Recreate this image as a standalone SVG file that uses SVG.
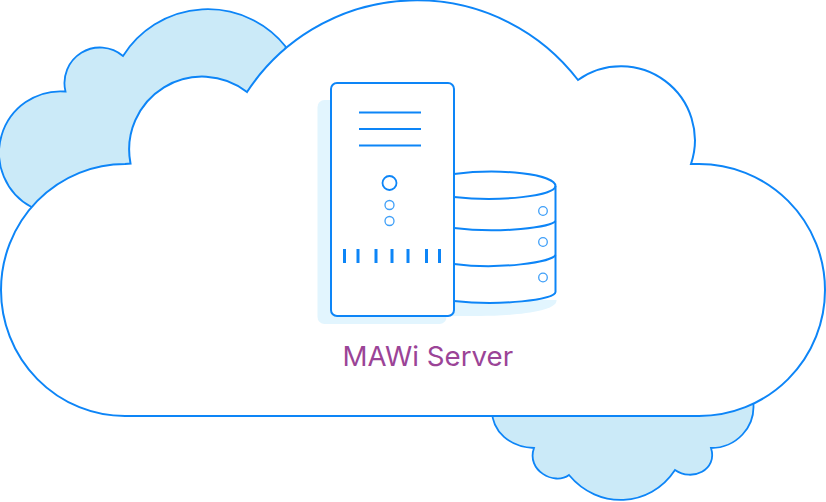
<svg xmlns="http://www.w3.org/2000/svg" width="826" height="502" viewBox="0 0 826 502">
<style>
.line{fill:none;stroke:#0d85f7;stroke-width:2;stroke-linejoin:miter}
.thin{fill:#fff;stroke:#3f9ff8;stroke-width:1.300}
.back{fill:#cbeaf8;stroke:#0d85f7;stroke-width:1.800}
.shadow{fill:#e2f5fe}
.tick{stroke:#0d85f7;stroke-width:3}
.rule{stroke:#0d85f7;stroke-width:2}
text{font-family:"Inter","Noto Sans",sans-serif;font-size:27.700px;fill:#9b4497}
</style>
<rect width="826" height="502" fill="#fff"/>
<g id="back-cloud-top">
<path class="back" d="M31.500 207A61.500 61.500 0 0 1 65.500 91.500A35.500 35.500 0 0 1 123 56A100 100 0 0 1 286 47L250 110L130 170Z"/>
</g>
<g id="back-cloud-bottom">
<path class="back" d="M492 410C492 432 510 447 534 448C526 470 554 486 569 475C598 510 650 508 675 470C692 482 718 470 711 448C735 448 757 428 753 400Z"/>
</g>
<g id="main-cloud">
<path d="M247 92A203 203 0 0 1 578 80A74 74 0 0 1 691 164H699A126 126 0 0 1 699 416H125A124 126 0 0 1 125 164L130.500 163.500A73 73 0 0 1 247 92Z" fill="#fff" stroke="#0d85f7" stroke-width="2"/>
</g>
<g id="database">
<path class="shadow" d="M450 300H556.500V300C558 312 510 316 480 316H450Z"/>
<path d="M454 174C500 168 555 174 555.500 186V292C555 300 500 306 454 301Z" fill="#fff"/>
<path class="line" d="M454 174C500 168 555 174 555.500 186C555 196 500 202 454 197"/>
<path class="line" d="M555.500 186V292C555 300 500 306 454 301"/>
<path class="line" d="M555.500 221C552 227 500 234 454 228"/>
<path class="line" d="M555.500 255C552 262 500 270 454 264"/>
<circle class="thin" cx="543" cy="211" r="4.300"/>
<circle class="thin" cx="543" cy="242" r="4.300"/>
<circle class="thin" cx="543" cy="277.500" r="4.300"/>
</g>
<g id="server">
<rect class="shadow" x="317.500" y="100" width="129" height="224" rx="7"/>
<rect x="331" y="83" width="123" height="233" rx="6" fill="#fff" stroke="#0d85f7" stroke-width="2"/>
<path class="rule" d="M359 112.500H421M359 129H421M359 145.500H421"/>
<circle cx="389.500" cy="183" r="7" fill="#fff" stroke="#0d85f7" stroke-width="1.800"/>
<circle class="thin" cx="389.500" cy="205" r="4.500"/>
<circle class="thin" cx="389.500" cy="221" r="4.500"/>
<path class="tick" d="M344.500 249V263M358 249V263M376 249V263M392 249V263M408 249V263M426.500 249V263M439.500 249V263"/>
</g>
<g id="label">
<text x="342.500" y="366">MAWi Server</text>
</g>
</svg>
